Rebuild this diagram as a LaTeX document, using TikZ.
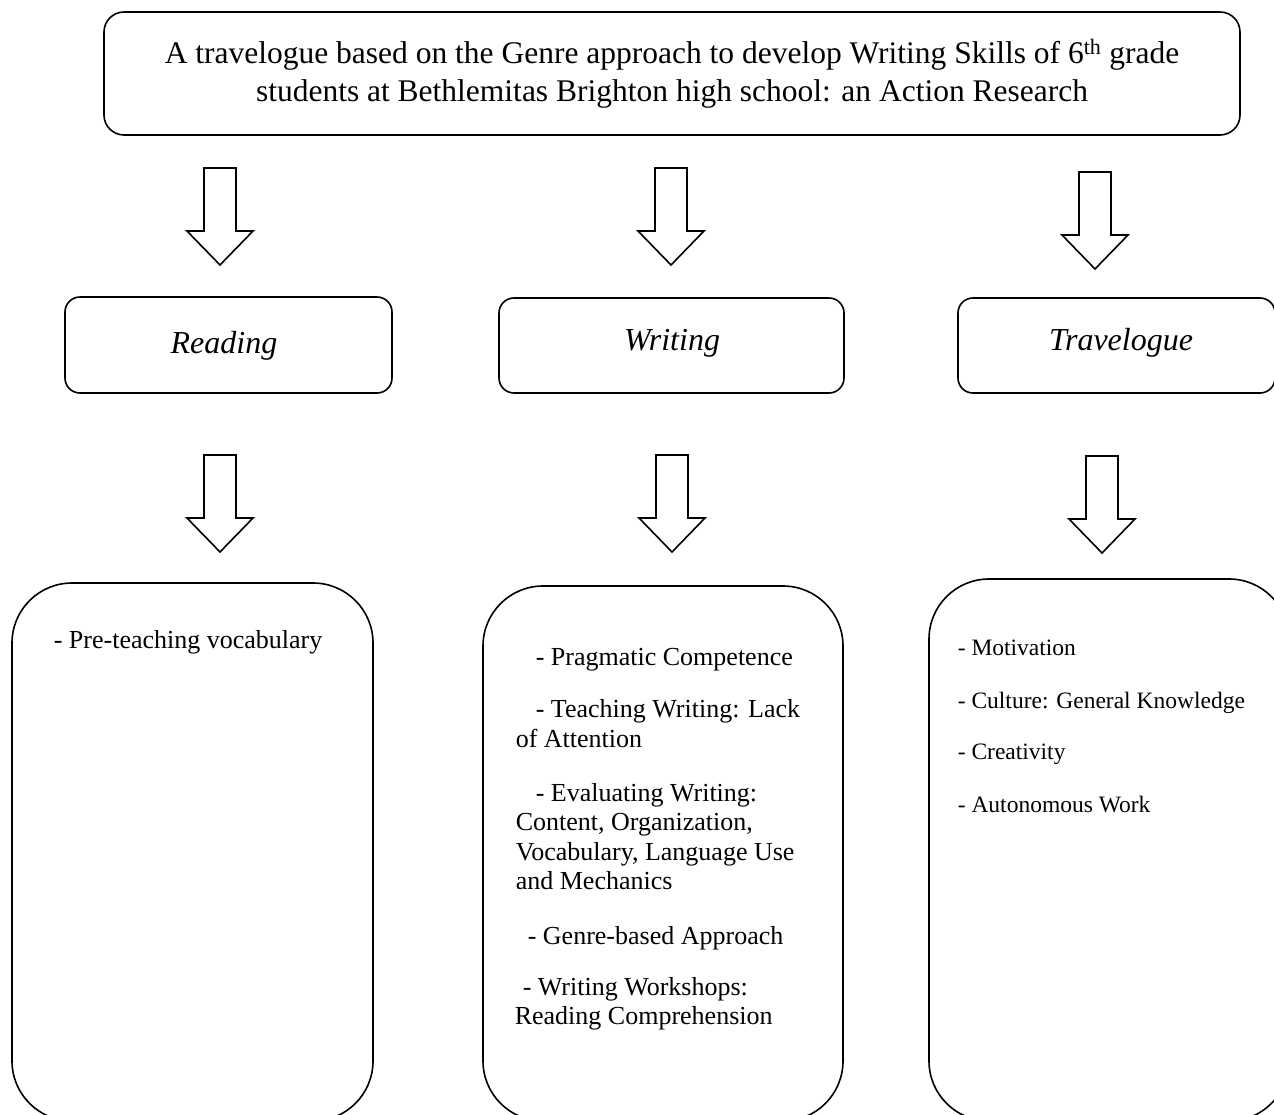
\documentclass[tikz,border=0pt]{standalone}
\usepackage{fontspec}
\setmainfont{Liberation Serif}
\begin{document}
\begin{tikzpicture}[x=1pt,y=-1pt,
  line width=1.6pt,
  topbox/.style={draw, rounded corners=20pt, minimum width=1136pt, minimum height=123pt, inner sep=0pt, align=center, font=\fontsize{31.5}{38}\selectfont},
  midbox/.style={draw, rounded corners=15pt, minimum height=95pt, inner sep=0pt},
  bigbox/.style={draw, rounded corners=60pt, inner sep=0pt},
  lab/.style={anchor=base, inner sep=0pt, font=\fontsize{32}{38}\selectfont\itshape},
  item/.style={anchor=base west, inner sep=0pt, font=\fontsize{26}{30}\selectfont},
  smallitem/.style={anchor=base west, inner sep=0pt, font=\fontsize{23.5}{28}\selectfont},
  blockarrow/.style={draw, line width=1.6pt, fill=white, line join=miter},
  darrow/.pic={\draw[blockarrow] (-16,0) -- (16,0) -- (16,63) -- (33,63) -- (0,97) -- (-33,63) -- (-16,63) -- cycle;}
]
\path[use as bounding box] (0,0) rectangle (1274,1115);
\clip (0,0) rectangle (1274,1115);

% title
\node[topbox] (title) at (672,73.5) {A travelogue based on the Genre approach to develop Writing Skills of 6\textsuperscript{th} grade\\students at Bethlemitas Brighton high school: an Action Research};

% first row of block arrows
\pic at (220,168) {darrow};
\pic at (671,168) {darrow};
\pic at (1095,172) {darrow};

% middle boxes
\node[midbox, minimum width=327pt, minimum height=96pt] (reading) at (228.5,345) {};
\node[lab] (readinglab) at (224,353) {Reading};
\node[midbox, minimum width=345pt] (writing) at (671.5,345.5) {};
\node[lab] (writinglab) at (672,350) {Writing};
\node[midbox, minimum width=317pt] (travel) at (1116.5,345.5) {};
\node[lab] (travellab) at (1121,350) {Travelogue};

% second row of block arrows
\pic at (220,455) {darrow};
\pic at (672,455) {darrow};
\pic at (1102,456) {darrow};

% bottom boxes
\node[bigbox, minimum width=361pt, minimum height=538pt] (rbox) at (192.5,852) {};
\node[bigbox, minimum width=360pt, minimum height=535pt] (wbox) at (663,853.5) {};
\node[bigbox, minimum width=360pt, minimum height=542pt] (tbox) at (1109,850) {};

% reading items
\node[item] (r1) at (53,648) {- Pre-teaching vocabulary};

% writing items
\node[item] (w1) at (535,665) {- Pragmatic Competence};
\node[item] (w2) at (535,717) {- Teaching Writing: Lack};
\node[item] (w3) at (515,747) {of Attention};
\node[item] (w4) at (535,801) {- Evaluating Writing:};
\node[item] (w5) at (515,830) {Content, Organization,};
\node[item] (w6) at (515,860) {Vocabulary, Language Use};
\node[item] (w7) at (515,889) {and Mechanics};
\node[item] (w8) at (527,944) {- Genre-based Approach};
\node[item] (w9) at (522,995) {- Writing Workshops:};
\node[item] (w10) at (514,1024) {Reading Comprehension};

% travelogue items
\node[smallitem] (t1) at (957,655) {- Motivation};
\node[smallitem] (t2) at (957,708) {- Culture: General Knowledge};
\node[smallitem] (t3) at (957,759) {- Creativity};
\node[smallitem] (t4) at (957,812) {- Autonomous Work};
\end{tikzpicture}
\end{document}
